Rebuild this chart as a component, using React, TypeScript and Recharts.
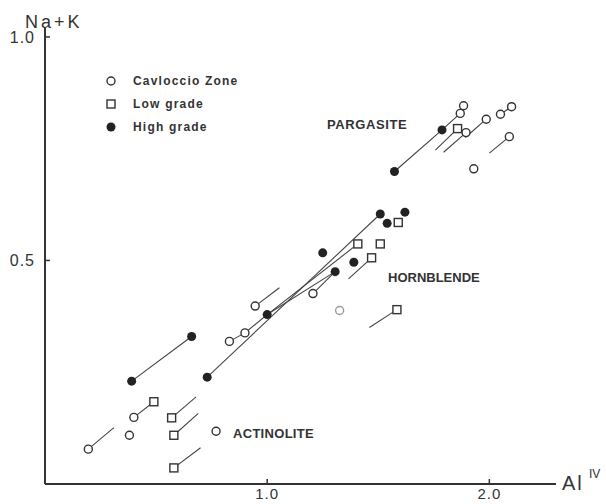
import { ScatterChart, Scatter, XAxis, YAxis, Legend } from "recharts";

// Al(IV) vs Na+K
const cavloccio = [
  [0.195, 0.078], [0.38, 0.109], [0.40, 0.149], [0.77, 0.118],
  [0.83, 0.319], [0.90, 0.338], [0.946, 0.398], [1.206, 0.426],
  [1.869, 0.829], [1.884, 0.846], [1.895, 0.786], [1.986, 0.816],
  [2.05, 0.827], [2.10, 0.844], [2.09, 0.777], [1.93, 0.705],
];
const cavloccioFaint = [[1.326, 0.388]];
const lowGrade = [
  [0.49, 0.184], [0.57, 0.148], [0.58, 0.109], [0.58, 0.036],
  [1.408, 0.537], [1.47, 0.506], [1.509, 0.537], [1.59, 0.585],
  [1.584, 0.39], [1.857, 0.795],
];
const highGrade = [
  [0.39, 0.23], [0.66, 0.33], [0.73, 0.239], [1.0, 0.379],
  [1.25, 0.517], [1.306, 0.475], [1.39, 0.496], [1.509, 0.604],
  [1.54, 0.583], [1.62, 0.608], [1.573, 0.699], [1.787, 0.792],
];
const tieLines = [
  [[0.39, 0.23], [0.66, 0.33]],
  [[0.40, 0.149], [0.49, 0.184]],
  [[0.57, 0.148], [0.68, 0.195]],
  [[0.58, 0.109], [0.69, 0.158]],
  [[0.58, 0.036], [0.70, 0.081]],
  [[0.195, 0.078], [0.31, 0.126]],
  [[0.73, 0.239], [1.509, 0.604]],
  [[0.83, 0.319], [0.90, 0.338], [1.0, 0.379]],
  [[1.0, 0.379], [1.408, 0.537]],
  [[1.0, 0.379], [1.306, 0.475]],
  [[1.206, 0.426], [1.306, 0.475]],
  [[0.946, 0.398], [1.055, 0.439]],
  [[1.47, 0.506], [1.366, 0.459]],
  [[1.584, 0.39], [1.46, 0.35]],
  [[1.573, 0.699], [1.787, 0.792], [1.869, 0.829]],
  [[1.857, 0.795], [1.757, 0.747]],
  [[1.895, 0.786], [1.794, 0.742]],
  [[1.986, 0.816], [1.892, 0.775]],
  [[2.05, 0.827], [2.10, 0.844]],
  [[2.09, 0.777], [2.0, 0.74]],
];
const xTicks = [1.0, 2.0];
const yTicks = [0.5, 1.0];
const legendItems = [
  { name: "Cavloccio Zone", kind: "circle" },
  { name: "Low grade", kind: "square" },
  { name: "High grade", kind: "filled" },
];

const INK = "#333";
const FONT = "'Liberation Sans', Arial, sans-serif";

const pts = (a: number[][]) => a.map(([x, y]) => ({ x, y }));

function Marker({ kind, cx, cy, stroke = INK }: { kind: string; cx: number; cy: number; stroke?: string }) {
  if (kind === "square") {
    return <rect x={cx - 4} y={cy - 4} width={8} height={8} fill="#fff" stroke={stroke} strokeWidth={1.4} />;
  }
  if (kind === "filled") {
    return <circle cx={cx} cy={cy} r={4.5} fill="#222" />;
  }
  return <circle cx={cx} cy={cy} r={4} fill="#fff" stroke={stroke} strokeWidth={1.4} />;
}

function XTick({ x, y, payload }: any) {
  return (
    <g>
      <line x1={x} x2={x} y1={y} y2={y - 5} stroke={INK} strokeWidth={1.5} />
      <text x={x} y={y + 15} textAnchor="middle" fontSize={15} letterSpacing={1} fill={INK} fontFamily={FONT}>
        {payload.value.toFixed(1)}
      </text>
    </g>
  );
}

function YTick({ x, y, payload }: any) {
  return (
    <g>
      <line x1={x} x2={x + 5} y1={y} y2={y} stroke={INK} strokeWidth={1.5} />
      <text x={x - 10} y={y + 6} textAnchor="end" fontSize={16} letterSpacing={1} fill={INK} fontFamily={FONT}>
        {payload.value.toFixed(1)}
      </text>
    </g>
  );
}

function LegendBox() {
  return (
    <svg width={150} height={70}>
      {legendItems.map((it, i) => (
        <g key={it.name}>
          <Marker kind={it.kind} cx={11} cy={11 + i * 23} />
          <text x={33} y={15 + i * 23} fontSize={12} fontWeight="bold" letterSpacing={1.2} fill={INK} fontFamily={FONT}>
            {it.name}
          </text>
        </g>
      ))}
    </svg>
  );
}

export default function App() {
  return (
    <div style={{ position: "absolute", left: 0, top: 0, background: "#fff" }}>
      <ScatterChart width={606} height={504} margin={{ top: 28, right: 50, bottom: 0, left: 0 }}>
        <XAxis
          type="number"
          dataKey="x"
          domain={[0, 2.3]}
          ticks={xTicks}
          height={20}
          tickSize={0}
          tickMargin={0}
          tickLine={false}
          tick={<XTick />}
          axisLine={{ stroke: INK, strokeWidth: 2 }}
        />
        <YAxis
          type="number"
          dataKey="y"
          domain={[0, 1.02]}
          ticks={yTicks}
          width={45}
          tickSize={0}
          tickMargin={0}
          tickLine={false}
          tick={<YTick />}
          axisLine={{ stroke: INK, strokeWidth: 2 }}
        />
        {tieLines.map((seg, i) => (
          <Scatter
            key={"t" + i}
            data={pts(seg)}
            line={{ stroke: "#444", strokeWidth: 1.1 }}
            shape={() => <g />}
            legendType="none"
            isAnimationActive={false}
          />
        ))}
        <Scatter data={pts(cavloccio)} shape={(p: any) => <Marker kind="circle" cx={p.cx} cy={p.cy} />} isAnimationActive={false} />
        <Scatter data={pts(cavloccioFaint)} shape={(p: any) => <Marker kind="circle" cx={p.cx} cy={p.cy} stroke="#999" />} isAnimationActive={false} />
        <Scatter data={pts(lowGrade)} shape={(p: any) => <Marker kind="square" cx={p.cx} cy={p.cy} />} isAnimationActive={false} />
        <Scatter data={pts(highGrade)} shape={(p: any) => <Marker kind="filled" cx={p.cx} cy={p.cy} />} isAnimationActive={false} />
        <Legend
          layout="vertical"
          align="center"
          verticalAlign="middle"
          content={() => <LegendBox />}
          wrapperStyle={{ left: 100, top: 70, width: 150 }}
        />
        <text x={25} y={28} fontSize={18} letterSpacing={3} fill={INK} fontFamily={FONT}>Na+K</text>
        <text x={562} y={490} fontSize={20} letterSpacing={2} fill={INK} fontFamily={FONT}>Al</text>
        <text x={589} y={478} fontSize={12} fill={INK} fontFamily={FONT}>IV</text>
        <text x={327} y={129} fontSize={13} fontWeight="bold" letterSpacing={0.6} fill={INK} fontFamily={FONT}>PARGASITE</text>
        <text x={388} y={282} fontSize={13} fontWeight="bold" letterSpacing={0} fill={INK} fontFamily={FONT}>HORNBLENDE</text>
        <text x={233} y={438} fontSize={13} fontWeight="bold" letterSpacing={0.3} fill={INK} fontFamily={FONT}>ACTINOLITE</text>
      </ScatterChart>
    </div>
  );
}
